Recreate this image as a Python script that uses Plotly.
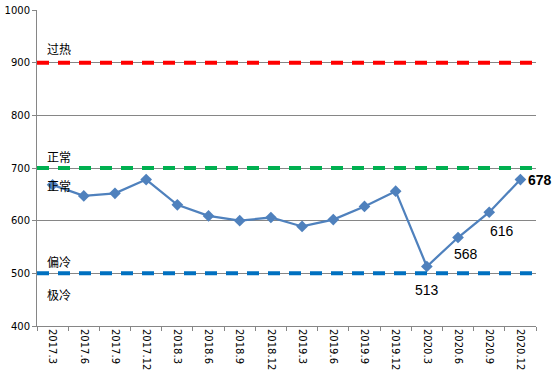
import plotly.graph_objects as go

categories = ["2017.3", "2017.6", "2017.9", "2017.12", "2018.3", "2018.6", "2018.9", "2018.12",
              "2019.3", "2019.6", "2019.9", "2019.12", "2020.3", "2020.6", "2020.9", "2020.12"]
values = [668, 647, 652, 678, 630, 609, 600, 606, 589, 602, 627, 656, 513, 568, 616, 678]

ref_levels = [900, 700, 500]
ref_colors = ["#FF0000", "#00B050", "#0070C0"]

zone_labels = ["过热", "正常", "正常", "偏冷", "极冷"]
zone_levels = [900, 700, 700, 500, 500]
zone_shifts = [14, 12, -17, 12, -21]

label_idx = [12, 13, 14, 15]

fig = go.Figure()

for lvl, col in zip(ref_levels, ref_colors):
    fig.add_shape(type="line", xref="paper", x0=0, x1=1, yref="y", y0=lvl, y1=lvl,
                  line=dict(color=col, width=4, dash="12px,9px"), layer="above")

fig.add_trace(go.Scatter(
    x=categories, y=values, mode="lines+markers",
    line=dict(color="#4F81BD", width=2.25),
    marker=dict(symbol="diamond", size=9, color="#4F81BD"),
    hoverinfo="x+y", showlegend=False))

for t, lvl, s in zip(zone_labels, zone_levels, zone_shifts):
    fig.add_annotation(xref="paper", x=0.017, xanchor="left", y=lvl, yref="y",
                       text=t, showarrow=False, yshift=s,
                       font=dict(family="Noto Sans CJK SC", size=12, color="#000000"))

offsets = [(0, -24), (8, -16), (13, -19), (20, 0)]
for (dx, dy), i in zip(offsets, label_idx):
    bold = i == label_idx[-1]
    fig.add_annotation(x=i, y=values[i], xref="x", yref="y",
                       text=("<b>%d</b>" % values[i]) if bold else str(values[i]),
                       showarrow=False, xshift=dx, yshift=dy,
                       font=dict(family="Liberation Sans", size=14, color="#000000"))

fig.update_layout(
    width=560, height=377,
    margin=dict(l=37, r=24, t=10, b=51, autoexpand=False),
    paper_bgcolor="white", plot_bgcolor="white",
    font=dict(family="DejaVu Sans", size=10, color="#000000"),
)
fig.update_xaxes(type="category", showgrid=False, showline=True, linecolor="#868686", linewidth=1,
                 ticks="outside", tickson="boundaries", ticklen=4, tickcolor="#868686",
                 tickangle=90, tickfont=dict(size=10, family="DejaVu Sans"), range=[-0.5, 15.5],
                 automargin=False)
fig.update_yaxes(range=[400, 1000], dtick=100, showgrid=True, gridcolor="#868686", gridwidth=1,
                 showline=True, linecolor="#868686", linewidth=1, ticks="outside", ticklen=4,
                 tickcolor="#868686", zeroline=False, tickfont=dict(size=10, family="DejaVu Sans"),
                 automargin=False)

fig.write_html("out.html", config={"displayModeBar": False},
               post_script="document.body.style.margin='0';document.body.style.overflow='hidden';")
